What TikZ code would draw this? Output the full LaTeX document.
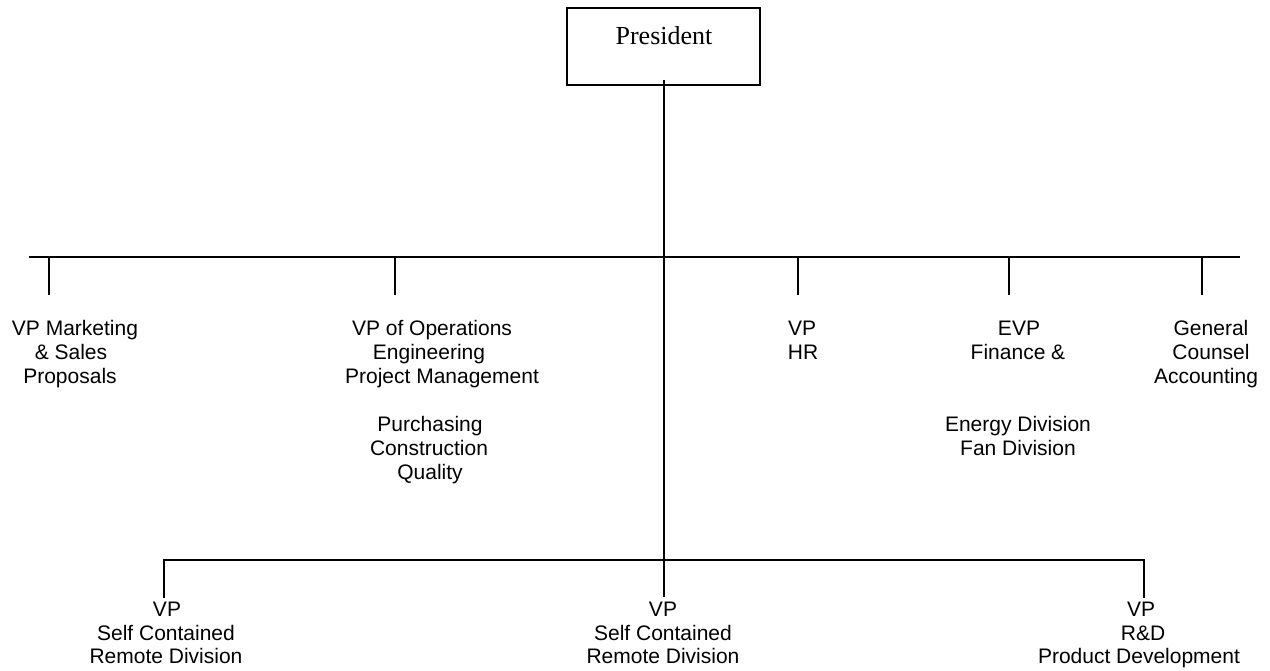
\documentclass[tikz,border=0pt]{standalone}
\usepackage{fontspec}
\setmainfont{Liberation Sans}
\newfontfamily\presfont{Liberation Serif}
\begin{document}
\begin{tikzpicture}[x=1pt,y=-1pt,
  lbl/.style={anchor=base,inner sep=0pt,font=\fontsize{21}{24}\selectfont},
  wire/.style={line width=2pt,black},
  boxst/.style={draw,line width=2.2pt,minimum width=193pt,minimum height=77pt,inner sep=0pt}]
\useasboundingbox (0,0) rectangle (1270,670);
% President box
\node[boxst] (pres) at (663.5,46.5) {};
\node[anchor=base,inner sep=0pt,font=\presfont\fontsize{26}{30}\selectfont] (prest) at (664,44) {President};
% coordinates of the bars
\coordinate (barL) at (29,256.5);
\coordinate (barR) at (1240,256.5);
\coordinate (low) at (663.5,597);
\coordinate (bbL) at (164,560);
\coordinate (bbR) at (1144,560);
\coordinate (bbLd) at (164,598);
\coordinate (bbRd) at (1144,598);
\foreach \n/\x in {a/49,b/395,c/798,d/1009,e/1202}{
  \coordinate (t\n) at (\x,256.5);
  \coordinate (d\n) at (\x,295);
}
% connectors
\draw[wire] (barL) -- (barR);
\draw[wire] (pres.south) ++(0,-6) -- (low);
\foreach \n in {a,b,c,d,e}{ \draw[wire] (t\n) -- (d\n); }
\draw[wire] (bbLd) -- (bbL) -- (bbR) -- (bbRd);
% top row labels
\node[lbl] (a1) at (75,335) {VP Marketing};
\node[lbl] (a2) at (71,359) {\& Sales};
\node[lbl] (a3) at (70,383) {Proposals};
\node[lbl] (b1) at (432,335) {VP of Operations};
\node[lbl] (b2) at (429,359) {Engineering};
\node[lbl] (b3) at (442,383) {Project Management};
\node[lbl] (b4) at (430,431) {Purchasing};
\node[lbl] (b5) at (429,455) {Construction};
\node[lbl] (b6) at (430,479) {Quality};
\node[lbl] (c1) at (802,335) {VP};
\node[lbl] (c2) at (803,359) {HR};
\node[lbl] (d1) at (1019,335) {EVP};
\node[lbl] (d2) at (1018,359) {Finance \&};
\node[lbl] (d3) at (1018,431) {Energy Division};
\node[lbl] (d4) at (1018,455) {Fan Division};
\node[lbl] (e1) at (1211,335) {General};
\node[lbl] (e2) at (1211,359) {Counsel};
\node[lbl] (e3) at (1206,383) {Accounting};
% bottom row labels
\node[lbl] (f1) at (167,616) {VP};
\node[lbl] (f2) at (166,640) {Self Contained};
\node[lbl] (f3) at (166,663) {Remote Division};
\node[lbl] (g1) at (663,616) {VP};
\node[lbl] (g2) at (663,640) {Self Contained};
\node[lbl] (g3) at (663,663) {Remote Division};
\node[lbl] (h1) at (1141,616) {VP};
\node[lbl] (h2) at (1143,640) {R\&D};
\node[lbl] (h3) at (1139,663) {Product Development};
\end{tikzpicture}
\end{document}
